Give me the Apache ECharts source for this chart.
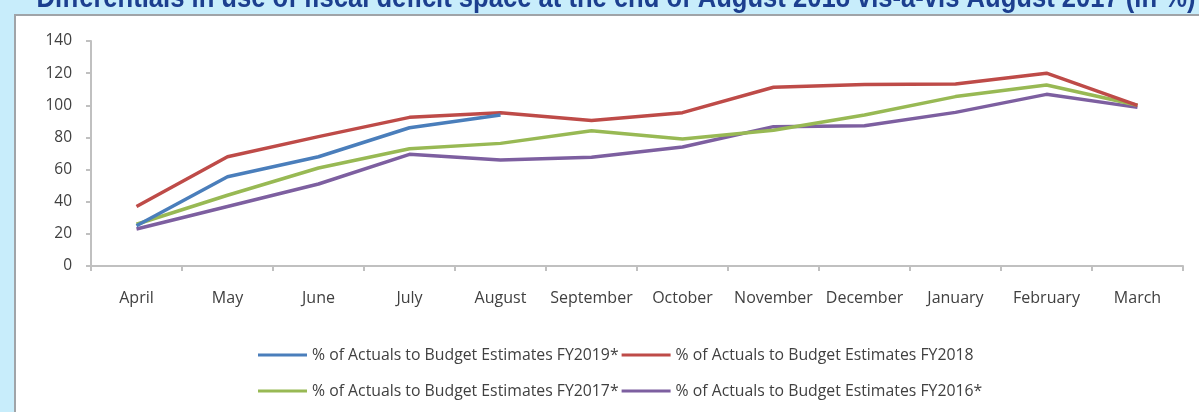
<!DOCTYPE html>
<html>
<head>
<meta charset="utf-8">
<style>
html,body{margin:0;padding:0;background:#c8edfb;}
#chart{width:1199px;height:412px;}
</style>
<script src="https://cdn.jsdelivr.net/npm/echarts@6/dist/echarts.min.js"></script>
</head>
<body>
<div id="chart"></div>
<script>
const titleText = 'Differentials in use of fiscal deficit space at the end of August 2018 vis-à-vis August 2017 (in %)';
const months = ['April','May','June','July','August','September','October','November','December','January','February','March'];
const fy2019 = [25, 55.5, 68, 86, 94];
const fy2018 = [37, 68, 80.5, 92.5, 95.4, 90.5, 95.4, 111.2, 113, 113.3, 120, 100];
const fy2017 = [26, 44, 61, 73, 76.3, 84.2, 79, 84.5, 94, 105.4, 112.6, 100];
const fy2016 = [23, 37, 51, 69.5, 66, 67.6, 74, 86.7, 87.3, 95.6, 106.8, 98.7];
const seriesNames = ['% of Actuals to Budget Estimates FY2019*','% of Actuals to Budget Estimates FY2018','% of Actuals to Budget Estimates FY2017*','% of Actuals to Budget Estimates FY2016*'];
const colors = ['#4a7ebb','#be4b48','#98b954','#7d5fa0'];
const yTicks = {min:0, max:140, interval:20};

const chart = echarts.init(document.getElementById('chart'));
const labelFont = '"Open Sans", Lato, sans-serif';
const legendCommon = {
  orient:'horizontal', left:253, itemWidth:49, itemHeight:3, itemGap:3, icon:'rect',
  textStyle:{fontFamily:labelFont, fontSize:15.8, color:'#404040', padding:[0,0,0,0]},
  selectedMode:false
};
const dataSets = [fy2019, fy2018, fy2017, fy2016];
chart.setOption({
  animation:false,
  backgroundColor:'#c8edfb',
  graphic:[
    {type:'rect', left:14, top:14, shape:{width:1199, height:420}, style:{fill:'#ffffff', stroke:'#a0a4a8', lineWidth:2}, z:-10},
    {type:'text', x:616, y:14, scaleX:0.853, style:{text:titleText, fontFamily:'"Liberation Sans", Arial, sans-serif', fontWeight:'bold', fontSize:30, fill:'#1c3f8f', align:'center', verticalAlign:'bottom'}}
  ],
  grid:{left:91, right:16, top:41, bottom:146, containLabel:false},
  legend:[
    Object.assign({}, legendCommon, {top:342, data:[seriesNames[0], seriesNames[1]]}),
    Object.assign({}, legendCommon, {top:378, data:[seriesNames[2], seriesNames[3]]})
  ],
  xAxis:{
    type:'category', data:months, boundaryGap:true,
    axisLine:{lineStyle:{color:'#c0c0c0', width:2}},
    axisTick:{show:true, length:5, lineStyle:{color:'#c0c0c0', width:2}},
    axisLabel:{fontFamily:labelFont, fontSize:16, color:'#404040', margin:24, interval:0}
  },
  yAxis:{
    type:'value', min:yTicks.min, max:yTicks.max, interval:yTicks.interval,
    splitLine:{show:false},
    axisLine:{show:true, lineStyle:{color:'#c0c0c0', width:2}},
    axisTick:{show:true, length:5, lineStyle:{color:'#c0c0c0', width:2}},
    axisLabel:{fontFamily:labelFont, fontSize:15.5, color:'#404040', margin:19}
  },
  series: dataSets.map((d,i)=>({
    name:seriesNames[i], type:'line', data:d, showSymbol:false, symbol:'none',
    lineStyle:{color:colors[i], width:3.5}, itemStyle:{color:colors[i]}, z: 10 - i
  }))
});
</script>
</body>
</html>
